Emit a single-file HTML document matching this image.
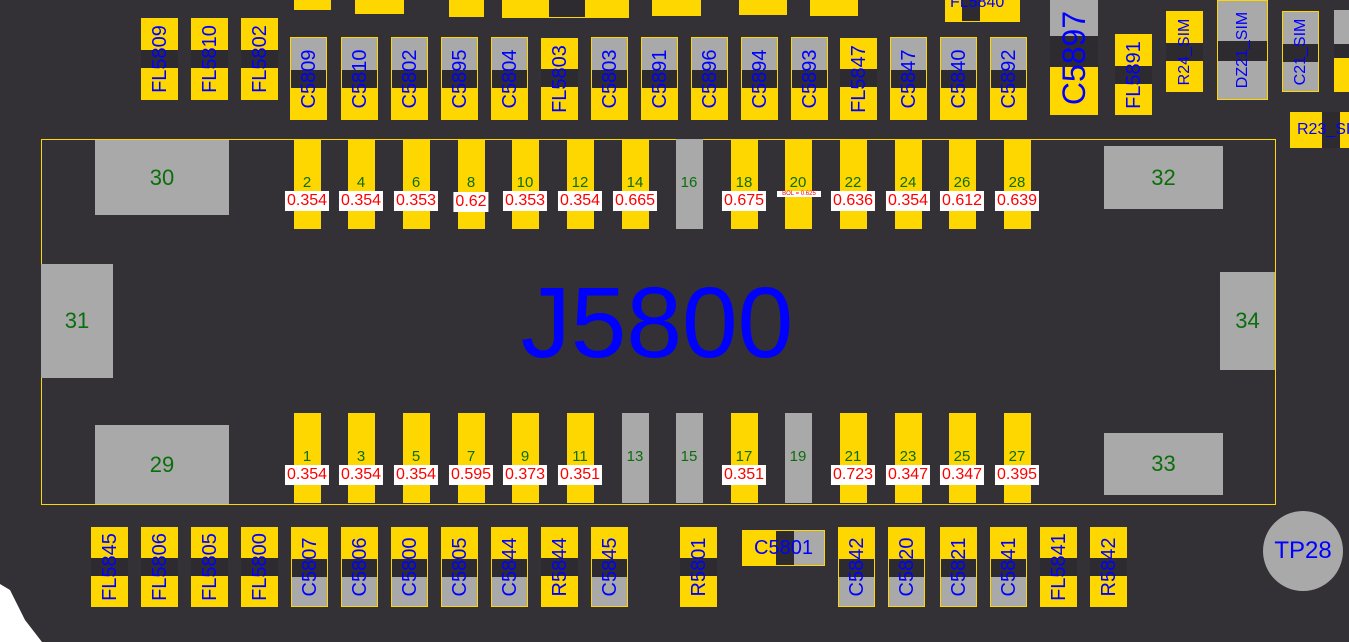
<!DOCTYPE html>
<html><head><meta charset="utf-8"><style>
body{margin:0;width:1349px;height:642px;overflow:hidden;background:#333036;position:relative;font-family:"Liberation Sans",sans-serif}
div{position:absolute;box-sizing:border-box}
.v{width:37px}
.v span,.h span{position:absolute;left:50%;top:50%;transform:translate(-50%,-50%) rotate(-90deg);color:#0000ff;font-size:20px;white-space:nowrap;line-height:1}
.h span{transform:translate(-50%,-50%)}
.ct{top:37px;height:83px;background:linear-gradient(#a9a9a9 0 32px,#2e2b30 32px 50px,#ffd700 50px);border:1px solid #ffd700}
.ft{top:38px;height:82px;background:linear-gradient(#ffd700 0 31px,#2e2b30 31px 49px,#ffd700 49px)}
.fl{top:18px;height:82px;background:linear-gradient(#ffd700 0 32px,#2e2b30 32px 50px,#ffd700 50px)}
.cb{top:527px;height:80px;background:linear-gradient(#ffd700 0 31px,#2e2b30 31px 49px,#a9a9a9 49px);border:1px solid #ffd700}
.fb{top:527px;height:80px;background:linear-gradient(#ffd700 0 31px,#2e2b30 31px 49px,#ffd700 49px)}
.y{background:#ffd700}
.pin{width:27px;height:90px;background:#ffd700}
.pt{top:139px}.pb{top:413px}
.g{background:#a9a9a9}
.n{color:#0a6e0a;font-size:15px;width:60px;text-align:center;line-height:1}
.val{background:#fff;color:#ff0000;font-size:16px;line-height:20px;height:20px;padding:0 2px;text-align:center;transform:translateX(-50%)}
.pad{background:#a9a9a9;color:#0a6e0a;font-size:22px;display:flex;align-items:center;justify-content:center}
</style></head><body>

<div class="y" style="left:294px;top:0;width:37px;height:10px"></div>
<div class="y" style="left:355px;top:0;width:49px;height:14px"></div>
<div class="y" style="left:449px;top:0;width:35px;height:17px"></div>
<div class="y" style="left:502px;top:0;width:127px;height:18px"><div style="left:47px;top:0;width:36px;height:17px;background:#2e2b30"></div></div>
<div class="y" style="left:652px;top:0;width:49px;height:16px"></div>
<div class="y" style="left:739px;top:0;width:48px;height:15px"></div>
<div class="y" style="left:810px;top:0;width:48px;height:16px"></div>
<div class="y" style="left:945px;top:0;width:75px;height:22px"><div style="left:17px;top:0;width:18px;height:21px;background:#2e2b30"></div><span style="position:absolute;left:5px;top:-6px;color:#00f;font-size:16px">FL5840</span></div>

<div class="v fl" style="left:141px"><span>FL5809</span></div>
<div class="v fl" style="left:191px"><span>FL5810</span></div>
<div class="v fl" style="left:241px"><span>FL5802</span></div>
<div class="v ct" style="left:290px"><span>C5809</span></div>
<div class="v ct" style="left:341px"><span>C5810</span></div>
<div class="v ct" style="left:391px"><span>C5802</span></div>
<div class="v ct" style="left:441px"><span>C5895</span></div>
<div class="v ct" style="left:491px"><span>C5804</span></div>
<div class="v ft" style="left:541px"><span>FL5803</span></div>
<div class="v ct" style="left:591px"><span>C5803</span></div>
<div class="v ct" style="left:641px"><span>C5891</span></div>
<div class="v ct" style="left:691px"><span>C5896</span></div>
<div class="v ct" style="left:741px"><span>C5894</span></div>
<div class="v ct" style="left:791px"><span>C5893</span></div>
<div class="v ft" style="left:840px"><span>FL5847</span></div>
<div class="v ct" style="left:890px"><span>C5847</span></div>
<div class="v ct" style="left:940px"><span>C5840</span></div>
<div class="v ct" style="left:990px"><span>C5892</span></div>

<div class="v" style="left:1050px;top:0;width:48px;height:115px;background:linear-gradient(#a9a9a9 0 36px,#2e2b30 36px 67px,#ffd700 67px)"><span style="font-size:32px">C5897</span></div>
<div class="v" style="left:1115px;top:34px;height:81px;background:linear-gradient(#ffd700 0 32px,#2e2b30 32px 50px,#ffd700 50px)"><span>FL5891</span></div>
<div class="v" style="left:1166px;top:11px;height:81px;background:linear-gradient(#ffd700 0 32px,#2e2b30 32px 50px,#ffd700 50px)"><span style="font-size:16px">R24_SIM</span></div>
<div class="v" style="left:1217px;top:0;width:51px;height:100px;background:linear-gradient(#a9a9a9 0 40px,#2e2b30 40px 60px,#a9a9a9 60px);border:1px solid #ffd700"><span style="font-size:16px">DZ21_SIM</span></div>
<div class="v" style="left:1282px;top:11px;height:81px;background:linear-gradient(#a9a9a9 0 32px,#2e2b30 32px 50px,#a9a9a9 50px);border:1px solid #ffd700"><span style="font-size:16px">C21_SIM</span></div>
<div style="left:1334px;top:10px;width:15px;height:82px;background:linear-gradient(#a9a9a9 0 34px,#2e2b30 34px 48px,#ffd700 48px)"></div>
<div class="h" style="left:1290px;top:112px;width:59px;height:36px;background:linear-gradient(90deg,#ffd700 0 32px,#2e2b30 32px 50px,#ffd700 50px)"><span style="font-size:16px;left:7px;transform:translate(0,-50%)">R23_SIM</span></div>

<div style="left:41px;top:139px;width:1235px;height:366px;border:1px solid #ffd700"></div>
<div class="pad" style="left:95px;top:140px;width:134px;height:75px">30</div>
<div class="pad" style="left:95px;top:425px;width:134px;height:79px">29</div>
<div class="pad" style="left:41px;top:264px;width:72px;height:114px">31</div>
<div class="pad" style="left:1104px;top:146px;width:119px;height:63px">32</div>
<div class="pad" style="left:1104px;top:433px;width:119px;height:62px">33</div>
<div class="pad" style="left:1220px;top:272px;width:55px;height:98px">34</div>
<div style="left:457px;top:268px;width:400px;text-align:center;color:#0000ff;font-size:100px;line-height:110px">J5800</div>

<div class="pin pt" style="left:294px"></div><div class="pin pt" style="left:348px"></div><div class="pin pt" style="left:403px"></div><div class="pin pt" style="left:458px"></div><div class="pin pt" style="left:512px"></div><div class="pin pt" style="left:567px"></div><div class="pin pt" style="left:622px"></div><div class="pin pt g" style="left:676px"></div><div class="pin pt" style="left:731px"></div><div class="pin pt" style="left:785px"></div><div class="pin pt" style="left:840px"></div><div class="pin pt" style="left:895px"></div><div class="pin pt" style="left:949px"></div><div class="pin pt" style="left:1004px"></div>
<div class="n" style="left:277px;top:175px">2</div><div class="n" style="left:331px;top:175px">4</div><div class="n" style="left:386px;top:175px">6</div><div class="n" style="left:441px;top:175px">8</div><div class="n" style="left:495px;top:175px">10</div><div class="n" style="left:550px;top:175px">12</div><div class="n" style="left:605px;top:175px">14</div><div class="n" style="left:659px;top:175px">16</div><div class="n" style="left:714px;top:175px">18</div><div class="n" style="left:768px;top:175px">20</div><div class="n" style="left:823px;top:175px">22</div><div class="n" style="left:878px;top:175px">24</div><div class="n" style="left:932px;top:175px">26</div><div class="n" style="left:987px;top:175px">28</div>
<div class="val" style="left:307px;top:191px">0.354</div><div class="val" style="left:361px;top:191px">0.354</div><div class="val" style="left:416px;top:191px">0.353</div><div class="val" style="left:471px;top:192px">0.62</div><div class="val" style="left:525px;top:191px">0.353</div><div class="val" style="left:580px;top:191px">0.354</div><div class="val" style="left:635px;top:191px">0.665</div><div class="val" style="left:744px;top:191px">0.675</div>
<div style="left:777px;top:191px;width:44px;height:6px;background:#fff;color:#ff0000;font-size:6px;line-height:6px;text-align:center">BOL = 0.625</div>
<div class="val" style="left:853px;top:191px">0.636</div><div class="val" style="left:908px;top:191px">0.354</div><div class="val" style="left:962px;top:191px">0.612</div><div class="val" style="left:1017px;top:191px">0.639</div>

<div class="pin pb" style="left:294px"></div><div class="pin pb" style="left:348px"></div><div class="pin pb" style="left:403px"></div><div class="pin pb" style="left:458px"></div><div class="pin pb" style="left:512px"></div><div class="pin pb" style="left:567px"></div><div class="pin pb g" style="left:622px"></div><div class="pin pb g" style="left:676px"></div><div class="pin pb" style="left:731px"></div><div class="pin pb g" style="left:785px"></div><div class="pin pb" style="left:840px"></div><div class="pin pb" style="left:895px"></div><div class="pin pb" style="left:949px"></div><div class="pin pb" style="left:1004px"></div>
<div class="n" style="left:277px;top:449px">1</div><div class="n" style="left:331px;top:449px">3</div><div class="n" style="left:386px;top:449px">5</div><div class="n" style="left:441px;top:449px">7</div><div class="n" style="left:495px;top:449px">9</div><div class="n" style="left:550px;top:449px">11</div><div class="n" style="left:605px;top:449px">13</div><div class="n" style="left:659px;top:449px">15</div><div class="n" style="left:714px;top:449px">17</div><div class="n" style="left:768px;top:449px">19</div><div class="n" style="left:823px;top:449px">21</div><div class="n" style="left:878px;top:449px">23</div><div class="n" style="left:932px;top:449px">25</div><div class="n" style="left:987px;top:449px">27</div>
<div class="val" style="left:307px;top:465px">0.354</div><div class="val" style="left:361px;top:465px">0.354</div><div class="val" style="left:416px;top:465px">0.354</div><div class="val" style="left:471px;top:465px">0.595</div><div class="val" style="left:525px;top:465px">0.373</div><div class="val" style="left:580px;top:465px">0.351</div><div class="val" style="left:744px;top:465px">0.351</div><div class="val" style="left:853px;top:465px">0.723</div><div class="val" style="left:908px;top:465px">0.347</div><div class="val" style="left:962px;top:465px">0.347</div><div class="val" style="left:1017px;top:465px">0.395</div>

<div class="v fb" style="left:91px"><span>FL5845</span></div>
<div class="v fb" style="left:141px"><span>FL5806</span></div>
<div class="v fb" style="left:191px"><span>FL5805</span></div>
<div class="v fb" style="left:241px"><span>FL5800</span></div>
<div class="v cb" style="left:291px"><span>C5807</span></div>
<div class="v cb" style="left:341px"><span>C5806</span></div>
<div class="v cb" style="left:391px"><span>C5800</span></div>
<div class="v cb" style="left:441px"><span>C5805</span></div>
<div class="v cb" style="left:491px"><span>C5844</span></div>
<div class="v fb" style="left:541px"><span>R5844</span></div>
<div class="v cb" style="left:591px"><span>C5845</span></div>
<div class="v fb" style="left:680px"><span>R5801</span></div>
<div class="h" style="left:742px;top:530px;width:83px;height:36px;background:linear-gradient(90deg,#ffd700 0 33px,#2e2b30 33px 51px,#a9a9a9 51px);border:1px solid #ffd700"><span>C5801</span></div>
<div class="v cb" style="left:838px"><span>C5842</span></div>
<div class="v cb" style="left:888px"><span>C5820</span></div>
<div class="v cb" style="left:940px"><span>C5821</span></div>
<div class="v cb" style="left:990px"><span>C5841</span></div>
<div class="v fb" style="left:1040px"><span>FL5841</span></div>
<div class="v fb" style="left:1090px"><span>R5842</span></div>

<div style="left:1263px;top:511px;width:80px;height:80px;border-radius:50%;background:#a9a9a9;color:#0000ff;font-size:24px;display:flex;align-items:center;justify-content:center">TP28</div>

<svg style="position:absolute;left:0;top:0" width="1349" height="642"><polygon points="0,584 10,590 25,620 42,642 0,642" fill="#fff"/></svg>
</body></html>
